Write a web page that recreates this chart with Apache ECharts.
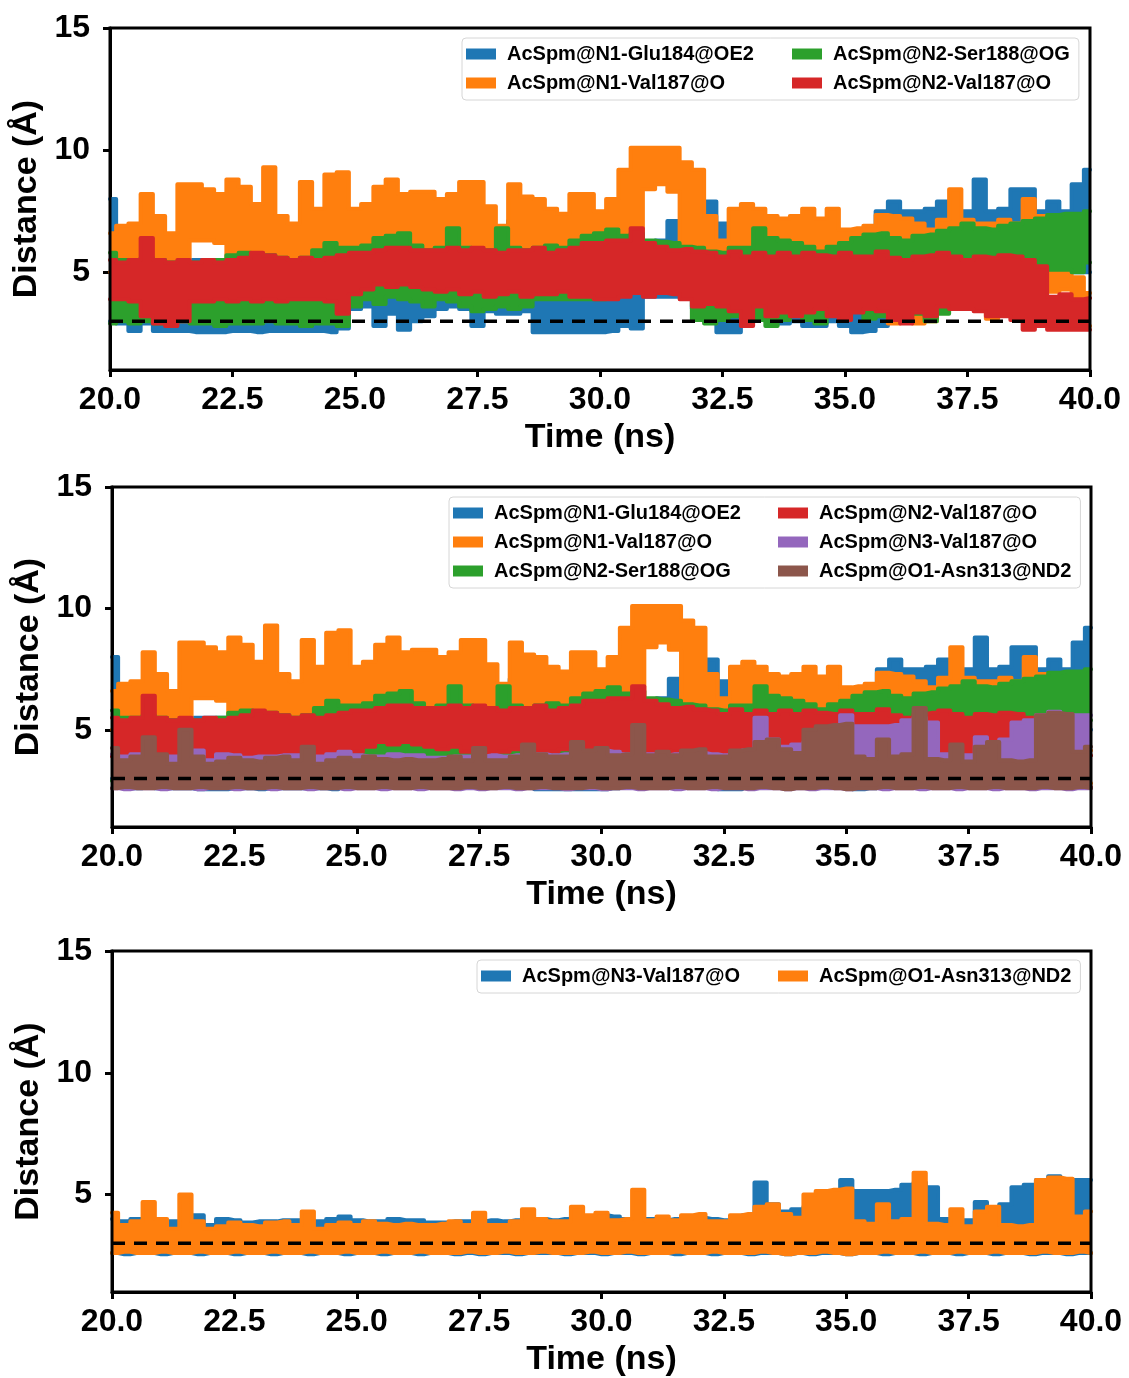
<!DOCTYPE html>
<html>
<head>
<meta charset="utf-8">
<script src="https://cdn.jsdelivr.net/npm/echarts@6/dist/echarts.min.js"></script>
<style>
  html, body { margin: 0; background: #fff; }
  #chart { width: 1129px; height: 1378px; }
</style>
</head>
<body>
<div id="chart"></div>
<script>
// time grid (ns), one value every 0.25 ns
const times = [
  20, 20.25, 20.5, 20.75, 21, 21.25, 21.5, 21.75,
  22, 22.25, 22.5, 22.75, 23, 23.25, 23.5, 23.75,
  24, 24.25, 24.5, 24.75, 25, 25.25, 25.5, 25.75,
  26, 26.25, 26.5, 26.75, 27, 27.25, 27.5, 27.75,
  28, 28.25, 28.5, 28.75, 29, 29.25, 29.5, 29.75,
  30, 30.25, 30.5, 30.75, 31, 31.25, 31.5, 31.75,
  32, 32.25, 32.5, 32.75, 33, 33.25, 33.5, 33.75,
  34, 34.25, 34.5, 34.75, 35, 35.25, 35.5, 35.75,
  36, 36.25, 36.5, 36.75, 37, 37.25, 37.5, 37.75,
  38, 38.25, 38.5, 38.75, 39, 39.25, 39.5, 39.75,
  40
]
const yTicks = [5, 10, 15]
const cutoff = 3.0

// distance envelopes (low / high edge of the noisy trace), Angstrom
const glu184Lo = [
  3.0, 2.9, 2.6, 2.9, 2.6, 2.6, 2.6, 2.55,
  2.55, 2.55, 2.6, 2.6, 2.55, 2.6, 2.6, 2.6,
  2.6, 2.6, 2.55, 2.7, 3.5, 3.6, 2.8, 3.3,
  2.65, 3.0, 3.2, 3.5, 3.6, 3.5, 2.8, 3.4,
  3.3, 3.3, 3.4, 2.55, 2.55, 2.55, 2.55, 2.55,
  2.55, 2.6, 2.8, 2.7, 4.0, 4.0, 4.0, 4.0,
  3.5, 3.0, 2.55, 2.55, 3.3, 3.3, 3.0, 2.9,
  3.0, 2.8, 2.8, 3.0, 2.8, 2.55, 2.6, 2.8,
  3.2, 3.3, 3.4, 3.4, 3.5, 3.7, 3.8, 3.9,
  4.0, 4.2, 4.4, 4.6, 4.8, 4.8, 5.0, 5.0,
  5.0
]
const glu184Hi = [
  8.0, 6.5, 5.6, 5.6, 5.5, 5.5, 5.5, 5.5,
  5.5, 5.5, 5.5, 5.5, 5.5, 5.5, 5.5, 5.5,
  5.5, 5.5, 5.6, 5.8, 5.8, 5.8, 5.9, 6.0,
  5.8, 5.8, 5.8, 5.8, 5.8, 5.8, 5.8, 5.8,
  5.8, 7.1, 5.8, 5.8, 5.8, 5.8, 5.8, 5.8,
  5.9, 5.9, 6.0, 6.2, 6.2, 6.3, 7.1, 6.5,
  7.3, 7.9, 7.0, 5.8, 5.8, 5.8, 5.8, 5.8,
  5.8, 5.8, 5.8, 5.8, 5.8, 6.0, 6.4, 7.5,
  7.9, 7.5, 7.5, 7.6, 7.9, 7.5, 7.5, 8.8,
  7.5, 7.6, 8.4, 8.4, 7.5, 7.9, 7.5, 8.6,
  9.2
]
const val187N1Lo = [
  5.0, 5.0, 5.0, 5.0, 5.0, 5.0, 5.0, 6.3,
  6.3, 6.2, 5.0, 5.0, 5.0, 5.0, 5.0, 5.0,
  5.0, 5.0, 5.0, 5.0, 5.0, 5.0, 5.0, 5.0,
  5.0, 5.0, 5.0, 5.0, 5.0, 5.0, 5.0, 5.0,
  5.0, 5.0, 5.0, 5.0, 5.0, 5.0, 5.0, 5.0,
  5.0, 5.0, 5.0, 5.0, 8.4, 8.6, 8.3, 5.0,
  5.0, 5.0, 5.0, 5.0, 5.0, 5.0, 5.0, 5.0,
  5.0, 5.0, 5.0, 5.0, 5.0, 5.0, 5.0, 4.0,
  2.9, 3.0, 2.9, 3.0, 4.0, 4.5, 4.5, 3.8,
  3.1, 4.0, 4.5, 4.5, 4.5, 4.2, 4.3, 3.6,
  2.8
]
const val187N1Hi = [
  6.6, 6.9, 7.0, 8.2, 7.3, 6.6, 8.6, 8.6,
  8.4, 8.2, 8.8, 8.5, 7.8, 9.3, 7.3, 7.0,
  8.7, 7.6, 9.0, 9.1, 7.6, 7.8, 8.5, 8.8,
  8.2, 8.3, 8.3, 8.0, 8.2, 8.7, 8.7, 7.7,
  6.9, 8.6, 8.1, 8.0, 7.6, 7.4, 8.2, 8.2,
  7.5, 8.0, 9.2, 10.1, 10.1, 10.1, 10.1, 9.5,
  9.2, 7.3, 6.3, 7.6, 7.8, 7.6, 7.3, 7.2,
  7.3, 7.6, 7.2, 7.6, 6.75, 6.8, 6.9, 7.35,
  7.3, 7.2, 7.0, 6.75, 7.15, 8.4, 7.15, 7.0,
  7.0, 7.15, 7.0, 8.0, 7.3, 5.4, 5.1, 4.8,
  4.15
]
const ser188Lo = [
  2.9, 3.0, 2.9, 3.0, 2.9, 2.9, 3.0, 2.9,
  2.9, 2.8, 2.9, 2.9, 2.9, 3.0, 2.9, 2.9,
  2.8, 2.9, 2.9, 2.8, 3.6, 3.9, 3.7, 4.0,
  3.9, 3.8, 3.6, 3.9, 3.8, 3.6, 3.4, 3.5,
  3.6, 3.5, 3.6, 3.9, 3.9, 3.9, 3.9, 3.9,
  3.9, 4.15, 4.15, 4.4, 4.4, 4.3, 4.15, 4.15,
  3.05, 2.9, 3.05, 3.2, 3.6, 3.05, 2.8, 3.05,
  3.3, 3.05, 2.9, 3.3, 3.6, 3.5, 3.1, 3.2,
  3.1, 3.3, 3.3, 3.0, 3.3, 3.8, 4.15, 4.3,
  4.4, 4.5, 4.7, 4.8, 5.1, 5.1, 5.1, 5.0,
  5.4
]
const ser188Hi = [
  5.8, 5.5, 5.5, 5.6, 5.5, 5.4, 5.4, 5.4,
  5.4, 5.5, 5.7, 5.8, 5.6, 5.7, 5.6, 5.5,
  5.6, 5.9, 6.2, 6.0, 6.0, 6.1, 6.4, 6.5,
  6.6, 6.1, 5.9, 6.0, 6.8, 6.0, 5.9, 5.9,
  6.8, 6.0, 5.9, 6.0, 6.1, 6.0, 6.3, 6.5,
  6.6, 6.75, 6.5, 6.6, 6.3, 6.25, 6.2, 6.05,
  6.0, 5.85, 5.8, 6.0, 6.0, 6.8, 6.4, 6.3,
  6.2, 6.05, 5.85, 6.05, 6.2, 6.4, 6.55, 6.6,
  6.4, 6.3, 6.5, 6.55, 6.7, 6.8, 7.0, 6.8,
  6.75, 6.9, 7.0, 7.1, 7.2, 7.35, 7.4, 7.4,
  7.5
]
const val187N2Lo = [
  3.9, 3.9, 3.8, 3.2, 2.9, 2.8, 3.0, 3.8,
  3.8, 3.9, 3.8, 3.9, 3.8, 3.9, 3.8, 3.9,
  3.9, 3.9, 3.8, 3.3, 4.1, 4.3, 4.5, 4.4,
  4.5, 4.4, 4.3, 4.2, 4.3, 4.1, 4.2, 4.0,
  4.1, 4.2, 4.0, 4.1, 4.1, 4.2, 4.0, 4.0,
  3.9, 3.9, 4.0, 4.15, 4.0, 4.15, 4.1, 3.9,
  3.6, 3.7, 3.6, 3.4, 2.8, 3.6, 3.2, 3.35,
  3.2, 3.35, 3.5, 3.2, 3.05, 3.35, 3.5, 3.4,
  3.05, 2.9, 3.35, 3.2, 3.6, 3.5, 3.5, 3.4,
  3.2, 3.2, 3.05, 2.65, 2.8, 2.65, 2.65, 2.65,
  2.65
]
const val187N2Hi = [
  5.5, 5.4, 5.5, 6.4, 5.5, 5.4, 5.5, 5.4,
  5.5, 5.4, 5.5, 5.6, 5.8, 5.7, 5.6, 5.5,
  5.6, 5.5, 5.6, 5.7, 5.8, 5.8, 5.9, 6.0,
  6.0, 5.9, 5.9, 5.9, 6.0, 5.9, 6.0, 5.9,
  5.8, 5.9, 5.9, 6.0, 5.8, 5.9, 6.0, 6.2,
  6.2, 6.3, 6.3, 6.8, 6.2, 6.05, 5.9, 5.95,
  5.85, 5.8, 5.65, 5.85, 5.65, 5.8, 5.65, 5.8,
  5.65, 5.8, 5.7, 5.65, 5.8, 5.65, 5.65, 5.85,
  5.6, 5.5, 5.65, 5.7, 5.8, 5.65, 5.5, 5.65,
  5.6, 5.7, 5.65, 5.5, 5.25, 4.0, 4.1, 3.9,
  3.95
]
const val187N3Lo = [
  2.6, 2.55, 2.6, 2.6, 2.55, 2.6, 2.6, 2.55,
  2.6, 2.6, 2.55, 2.6, 2.6, 2.55, 2.6, 2.6,
  2.55, 2.6, 2.6, 2.55, 2.6, 2.6, 2.55, 2.6,
  2.6, 2.55, 2.6, 2.6, 2.55, 2.6, 2.55, 2.6,
  2.6, 2.55, 2.6, 2.6, 2.6, 2.55, 2.6, 2.6,
  2.55, 2.6, 2.6, 2.55, 2.6, 2.6, 2.55, 2.6,
  2.6, 2.55, 2.6, 2.6, 2.55, 2.6, 2.6, 2.55,
  2.6, 2.55, 2.6, 2.6, 2.55, 2.6, 2.6, 2.55,
  2.6, 2.6, 2.55, 2.6, 2.6, 2.55, 2.6, 2.6,
  2.55, 2.6, 2.6, 2.55, 2.6, 2.6, 2.55, 2.6,
  2.6
]
const val187N3Hi = [
  4.0, 3.9, 4.0, 3.9, 3.7, 3.9, 3.8, 4.15,
  3.75, 4.0, 3.95, 3.85, 3.9, 3.9, 3.95, 3.95,
  3.55, 3.9, 4.0, 4.1, 3.95, 3.9, 3.9, 4.0,
  3.95, 3.95, 3.85, 3.85, 3.9, 3.9, 3.9, 3.95,
  3.9, 3.95, 3.9, 4.0, 3.95, 4.0, 4.1, 4.1,
  4.15, 4.1, 4.0, 4.0, 4.0, 3.95, 4.0, 4.1,
  4.05, 4.0, 3.95, 3.95, 4.15, 5.5, 4.6, 4.3,
  4.4, 4.5, 4.6, 4.5, 5.6, 5.15, 5.15, 5.15,
  5.2, 5.4, 5.5, 5.3, 4.0, 3.95, 3.95, 4.7,
  3.95, 4.6, 5.3, 5.4, 5.6, 5.75, 5.6, 5.6,
  5.6
]
const asn313Lo = [
  2.6, 2.65, 2.6, 2.6, 2.65, 2.6, 2.6, 2.65,
  2.6, 2.6, 2.65, 2.6, 2.6, 2.65, 2.6, 2.6,
  2.65, 2.6, 2.6, 2.65, 2.6, 2.6, 2.65, 2.6,
  2.6, 2.65, 2.6, 2.6, 2.6, 2.65, 2.6, 2.6,
  2.65, 2.6, 2.6, 2.65, 2.6, 2.6, 2.6, 2.65,
  2.6, 2.6, 2.65, 2.6, 2.6, 2.6, 2.65, 2.6,
  2.6, 2.65, 2.6, 2.6, 2.6, 2.65, 2.6, 2.55,
  2.6, 2.6, 2.65, 2.6, 2.55, 2.6, 2.6, 2.65,
  2.6, 2.6, 2.65, 2.6, 2.6, 2.65, 2.6, 2.6,
  2.65, 2.6, 2.6, 2.6, 2.65, 2.6, 2.6, 2.65,
  2.6
]
const asn313Hi = [
  4.25, 3.75, 3.9, 4.7, 4.0, 3.6, 5.0, 3.9,
  3.6, 3.7, 3.85, 3.75, 3.7, 3.85, 3.9, 3.75,
  4.3, 3.6, 3.75, 3.85, 3.75, 3.9, 3.8, 3.75,
  3.8, 3.75, 3.75, 3.8, 3.9, 3.75, 4.25, 3.75,
  3.75, 3.9, 4.4, 4.0, 3.9, 3.9, 4.5, 4.15,
  4.25, 3.95, 4.0, 5.2, 3.95, 4.1, 3.95, 4.15,
  4.2, 3.9, 3.9, 4.15, 4.2, 4.5, 4.6, 4.2,
  4.05, 5.0, 5.15, 5.2, 5.25, 3.9, 3.8, 4.6,
  3.9, 4.0, 5.9, 3.8, 3.75, 4.4, 3.7, 4.3,
  4.5, 3.75, 3.7, 3.75, 5.6, 5.7, 5.65, 4.1,
  4.3
]

const GLU = 'AcSpm@N1-Glu184@OE2'
const VAL_N1 = 'AcSpm@N1-Val187@O'
const SER = 'AcSpm@N2-Ser188@OG'
const VAL_N2 = 'AcSpm@N2-Val187@O'
const VAL_N3 = 'AcSpm@N3-Val187@O'
const ASN = 'AcSpm@O1-Asn313@ND2'

const C = {
  blue: '#1f77b4', orange: '#ff7f0e', green: '#2ca02c',
  red: '#d62728', purple: '#9467bd', brown: '#8c564b'
}
const FONT = '"Liberation Sans", Arial, Helvetica, sans-serif'

// traces per panel, in drawing order
const panels = [
  [
    { name: GLU, color: C.blue, lo: glu184Lo, hi: glu184Hi },
    { name: VAL_N1, color: C.orange, lo: val187N1Lo, hi: val187N1Hi },
    { name: SER, color: C.green, lo: ser188Lo, hi: ser188Hi },
    { name: VAL_N2, color: C.red, lo: val187N2Lo, hi: val187N2Hi }
  ],
  [
    { name: GLU, color: C.blue, lo: glu184Lo, hi: glu184Hi },
    { name: VAL_N1, color: C.orange, lo: val187N1Lo, hi: val187N1Hi },
    { name: SER, color: C.green, lo: ser188Lo, hi: ser188Hi },
    { name: VAL_N2, color: C.red, lo: val187N2Lo, hi: val187N2Hi },
    { name: VAL_N3, color: C.purple, lo: val187N3Lo, hi: val187N3Hi },
    { name: ASN, color: C.brown, lo: asn313Lo, hi: asn313Hi }
  ],
  [
    { name: VAL_N3, color: C.blue, lo: val187N3Lo, hi: val187N3Hi },
    { name: ASN, color: C.orange, lo: asn313Lo, hi: asn313Hi }
  ]
]

const grids = [
  { left: 110, top: 28, width: 980, height: 342 },
  { left: 112, top: 487, width: 979, height: 340 },
  { left: 112, top: 951, width: 979, height: 341 }
].map(g => ({ ...g, show: true, borderColor: '#000', borderWidth: 3, backgroundColor: 'transparent', z: 21 }))

const boldText = (size) => ({ fontFamily: FONT, fontWeight: 'bold', fontSize: size, color: '#000' })

const xAxes = grids.map((g, i) => ({
  type: 'value', gridIndex: i, min: 20, max: 40, interval: 2.5,
  name: 'Time (ns)', nameLocation: 'middle', nameGap: 51,
  nameTextStyle: boldText(34),
  axisLine: { show: true, onZero: false, lineStyle: { color: '#000', width: 3 } },
  axisTick: { show: true, length: 7, lineStyle: { color: '#000', width: 3 } },
  axisLabel: { ...boldText(32), margin: 14, formatter: v => v.toFixed(1) },
  splitLine: { show: false }
}))

const yAxes = grids.map((g, i) => ({
  type: 'value', gridIndex: i, min: 1, max: 15,
  name: 'Distance (Å)', nameLocation: 'middle', nameGap: 60,
  nameTextStyle: boldText(34),
  axisLine: { show: true, onZero: false, lineStyle: { color: '#000', width: 3 } },
  axisTick: { show: true, length: 7, customValues: yTicks, lineStyle: { color: '#000', width: 3 } },
  axisLabel: { ...boldText(32), margin: 20, customValues: yTicks },
  splitLine: { show: false }
}))

// each trace = base line at the low edge + stacked filled band up to the high edge.
// value first, time second, so the stack runs on the y dimension.
// z follows the plotting order so later traces sit on top of earlier ones
const bandSeries = (trace, g, k) => {
  const common = {
    type: 'line', name: trace.name, xAxisIndex: g, yAxisIndex: g, stack: 'p' + g + '_' + k,
    z: 2 + k, encode: { x: 1, y: 0 }, step: 'middle',
    symbol: 'none', silent: true, animation: false, emphasis: { disabled: true },
    lineStyle: { color: trace.color, width: 4, join: 'round', cap: 'round' },
    itemStyle: { color: trace.color }
  }
  return [
    { ...common, data: times.map((t, i) => [trace.lo[i], t]) },
    {
      ...common,
      data: times.map((t, i) => [+(trace.hi[i] - trace.lo[i]).toFixed(3), t]),
      areaStyle: { color: trace.color, opacity: 1 }
    }
  ]
}

const series = []
panels.forEach((traces, g) => {
  traces.forEach((tr, k) => series.push(...bandSeries(tr, g, k)))
  series.push({
    type: 'line', xAxisIndex: g, yAxisIndex: g, z: 20,
    data: [[20, cutoff], [40, cutoff]],
    symbol: 'none', silent: true, animation: false,
    lineStyle: { color: '#000', width: 3.5, type: [13, 9] }
  })
})

const legendItem = (name, color, textWidth) => {
  const item = { name, itemStyle: { color, borderWidth: 0 } }
  if (textWidth) item.textStyle = { width: textWidth }
  return item
}
const legendBase = {
  orient: 'horizontal', icon: 'rect', itemWidth: 30, itemHeight: 11, itemGap: 7,
  selectedMode: false, padding: [5, 9, 6, 4], z: 30,
  backgroundColor: 'rgba(255,255,255,0.8)', borderColor: '#d6d6d6', borderWidth: 1, borderRadius: 4,
  textStyle: { ...boldText(20), lineHeight: 22, padding: [0, 0, 0, 6] }
}
const legends = [
  {
    ...legendBase, left: 462, top: 38,
    data: [legendItem(GLU, C.blue, 278), legendItem(SER, C.green), '',
      legendItem(VAL_N1, C.orange, 278), legendItem(VAL_N2, C.red)]
  },
  {
    ...legendBase, left: 449, top: 497,
    data: [legendItem(GLU, C.blue, 277), legendItem(VAL_N2, C.red), '',
      legendItem(VAL_N1, C.orange, 277), legendItem(VAL_N3, C.purple), '',
      legendItem(SER, C.green, 277), legendItem(ASN, C.brown)]
  },
  {
    ...legendBase, left: 477, top: 960,
    data: [legendItem(VAL_N3, C.blue, 249), legendItem(ASN, C.orange)]
  }
]

const chart = echarts.init(document.getElementById('chart'), null, { renderer: 'canvas' })
chart.setOption({
  backgroundColor: '#fff',
  animation: false,
  grid: grids,
  xAxis: xAxes,
  yAxis: yAxes,
  legend: legends,
  series
})
</script>
</body>
</html>
